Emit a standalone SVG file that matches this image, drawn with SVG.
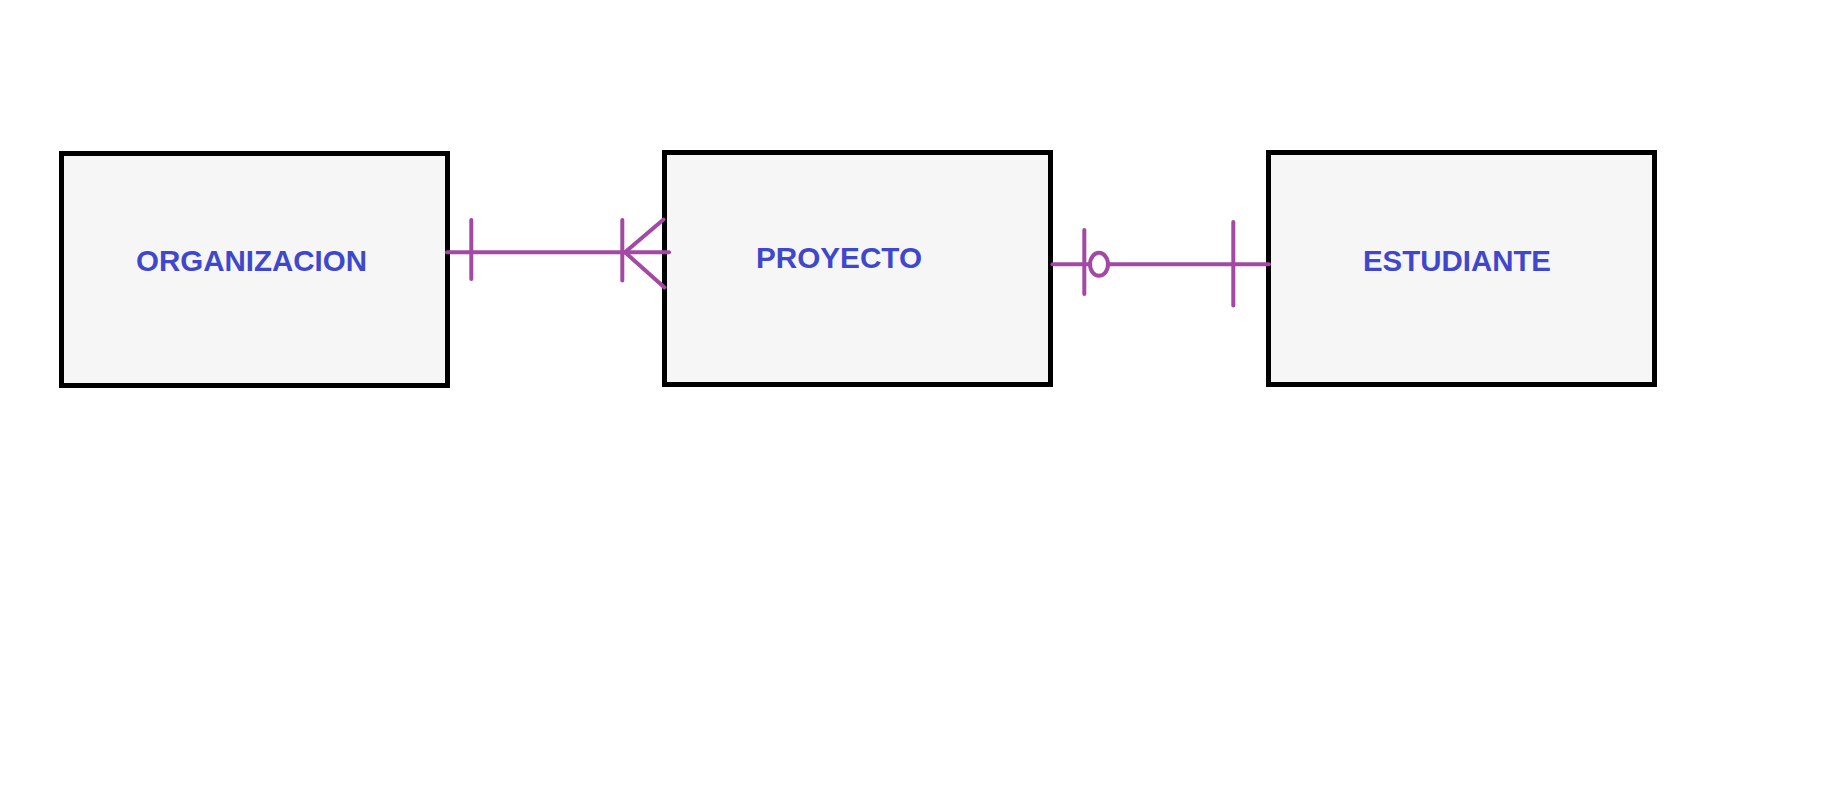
<svg xmlns="http://www.w3.org/2000/svg" width="1845" height="791" viewBox="0 0 1845 791">
<style>
.box{fill:#f6f6f6;stroke:#000;stroke-width:5}
.lbl{font-family:"Liberation Sans",Arial,sans-serif;font-weight:bold;font-size:30px;fill:#3f48cc}
.cn{stroke:#a349a4;stroke-width:4;stroke-linecap:round;fill:none}
</style>
<rect width="1845" height="791" fill="#fff"/>
<g id="organizacion">
<rect class="box" x="61.5" y="153.5" width="386" height="232"/>
<text class="lbl" x="136" y="270.5" textLength="231" lengthAdjust="spacingAndGlyphs">ORGANIZACION</text>
</g>
<g id="proyecto">
<rect class="box" x="664.5" y="152.5" width="386" height="232"/>
<text class="lbl" x="756" y="267.5" textLength="166" lengthAdjust="spacingAndGlyphs">PROYECTO</text>
</g>
<g id="estudiante">
<rect class="box" x="1268.5" y="152.5" width="386" height="232"/>
<text class="lbl" x="1363" y="270.5" textLength="188" lengthAdjust="spacingAndGlyphs">ESTUDIANTE</text>
</g>
<g id="connectors">
<line class="cn" x1="447" y1="252.3" x2="669" y2="252.3"/>
<line class="cn" x1="471.3" y1="220" x2="471.3" y2="279"/>
<line class="cn" x1="622.3" y1="220" x2="622.3" y2="280.5"/>
<line class="cn" x1="625" y1="252.3" x2="663.5" y2="219.5"/>
<line class="cn" x1="625" y1="252.3" x2="664.5" y2="287.5"/>
<line class="cn" x1="1052.5" y1="264.3" x2="1090" y2="264.3"/>
<line class="cn" x1="1108" y1="264.3" x2="1269" y2="264.3"/>
<line class="cn" x1="1084.3" y1="230" x2="1084.3" y2="294"/>
<ellipse class="cn" cx="1099" cy="264.3" rx="9" ry="11.5"/>
<line class="cn" x1="1233.3" y1="222" x2="1233.3" y2="305.5"/>
</g>
</svg>
